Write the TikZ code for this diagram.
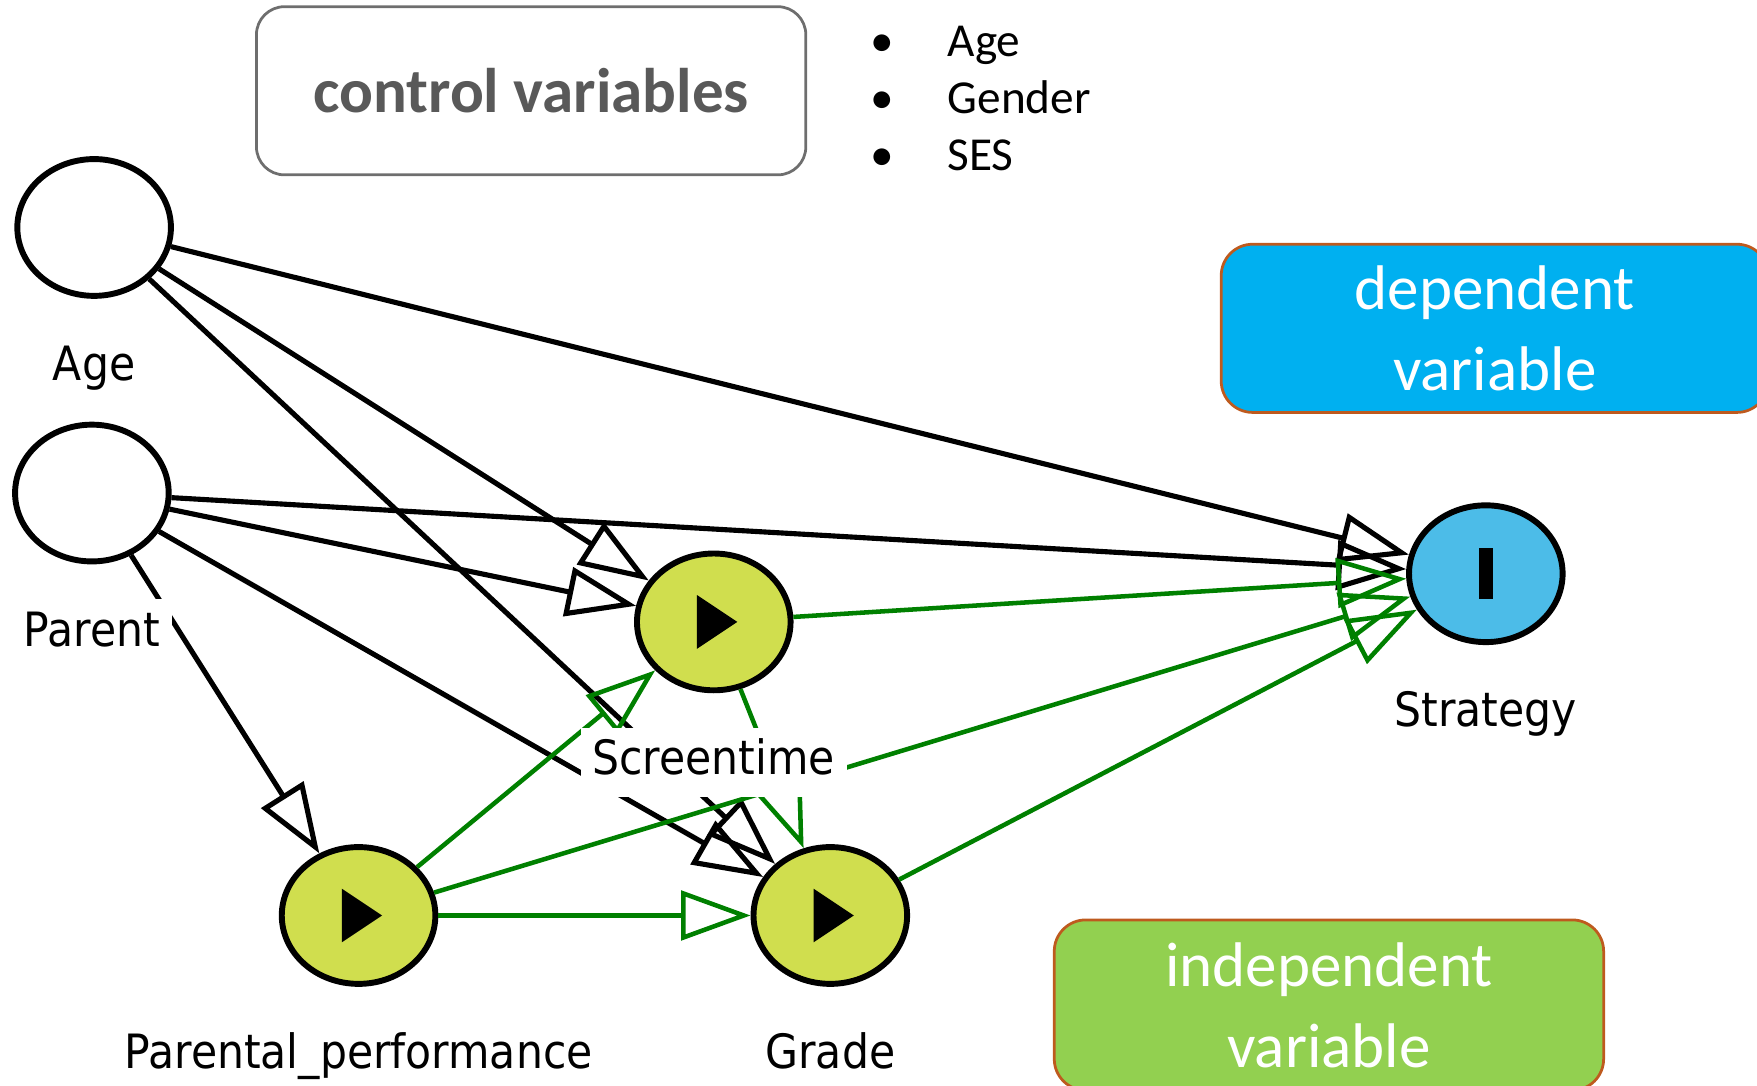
\documentclass[tikz,border=0pt]{standalone}
\usepackage{fontspec}
\setmainfont{Carlito}
\newfontfamily\lblfont[FakeStretch=0.9]{DejaVu Sans}
\usetikzlibrary{arrows.meta,shapes.geometric,positioning}

\definecolor{indepfill}{RGB}{208,222,78}
\definecolor{depfill}{RGB}{76,188,232}
\definecolor{depblue}{RGB}{0,176,240}
\definecolor{indepgreen}{RGB}{146,208,80}
\definecolor{keyedge}{RGB}{190,90,30}
\definecolor{ctrlgray}{RGB}{110,110,110}
\definecolor{ctrltext}{RGB}{89,89,89}
\definecolor{effgreen}{RGB}{0,128,0}

\tikzstyle{var}=[ellipse,draw=black,line width=1.5pt,minimum width=1.37cm,minimum height=1.22cm,inner sep=0pt]
\tikzstyle{latent}=[var,fill=white]
\tikzstyle{indep}=[var,fill=indepfill]
\tikzstyle{dep}=[var,fill=depfill]
\tikzstyle{lbl}=[font=\lblfont\fontsize{12}{14}\selectfont,fill=white,inner sep=3pt,text height=9pt,text depth=2.5pt]
\tikzstyle{ctrledge}=[draw=black,line width=1.3pt,-{Triangle[open,length=0.62cm,width=0.44cm]}]
\tikzstyle{effedge}=[draw=effgreen,line width=1.15pt,-{Triangle[open,length=0.62cm,width=0.44cm]}]
\tikzstyle{keybox}=[rounded corners=0.28cm,minimum width=4.88cm,minimum height=1.5cm,align=center,text=white,line width=0.7pt,draw=keyedge,font=\fontsize{16}{20.5}\selectfont]

\begin{document}
\begin{tikzpicture}[x=0.01cm, y=-0.01cm]
	\useasboundingbox (0,0) rectangle (1568,969);
	%legend
	\node[draw=ctrlgray, line width=0.7pt, rounded corners=0.25cm, minimum width=4.9cm, minimum height=1.5cm,
		text=ctrltext, font=\fontsize{16}{19}\selectfont\bfseries] (ctrlbox) at (474,81) {control variables};
	\foreach \t/\y [count=\i] in {Age/50,Gender/101,SES/152}
	{
		\node[anchor=base, inner sep=0pt, font=\fontsize{12}{14}\selectfont] (bullet\i) at (787,\y) {\textbullet};
		\node[anchor=base west, inner sep=0pt, font=\fontsize{12}{14}\selectfont] (item\i) at (845,\y) {\t};
	}
	\node[keybox, fill=depblue] (depbox) at (1334,293) {dependent\\variable};
	\node[keybox, fill=indepgreen, minimum width=4.9cm, minimum height=1.52cm] (indepbox) at (1186,897) {independent\\variable};
	
	%variables
	\node[latent] (age) at (84,203) {};
	\node[latent] (parent) at (82,440) {};
	\node[indep] (screen) at (637,555) {};
	\node[indep] (parperf) at (320,817) {};
	\node[indep] (grade) at (741,817) {};
	\node[dep] (strategy) at (1326,512) {};
	\foreach \n in {screen,parperf,grade}
	\fill ([shift={(-15,-24)}]\n.center) -- ++(36,24) -- ++(-36,24) -- cycle;
	\fill ([shift={(-6.5,-23)}]strategy.center) rectangle ++(13,46);
	
	%control paths
	\foreach \a/\b in {age/strategy,age/screen,age/grade,parent/strategy,parent/screen,parent/grade,parent/parperf}
	\draw[ctrledge] (\a) -- (\b);
	%effects
	\foreach \a/\b in {screen/strategy,screen/grade,parperf/screen,parperf/strategy,parperf/grade,grade/strategy}
	\draw[effedge] (\a) -- (\b);
	
	%labels
	\node[lbl, below=0.3cm of age] (agelbl) {Age};
	\node[lbl, below=0.3cm of parent] (parentlbl) {Parent};
	\node[lbl, below=0.3cm of screen] (screenlbl) {Screentime};
	\node[lbl, below=0.3cm of parperf] (parperflbl) {Parental\_performance};
	\node[lbl, below=0.3cm of grade] (gradelbl) {Grade};
	\node[lbl, below=0.3cm of strategy] (strategylbl) {Strategy};
\end{tikzpicture}
\end{document}
